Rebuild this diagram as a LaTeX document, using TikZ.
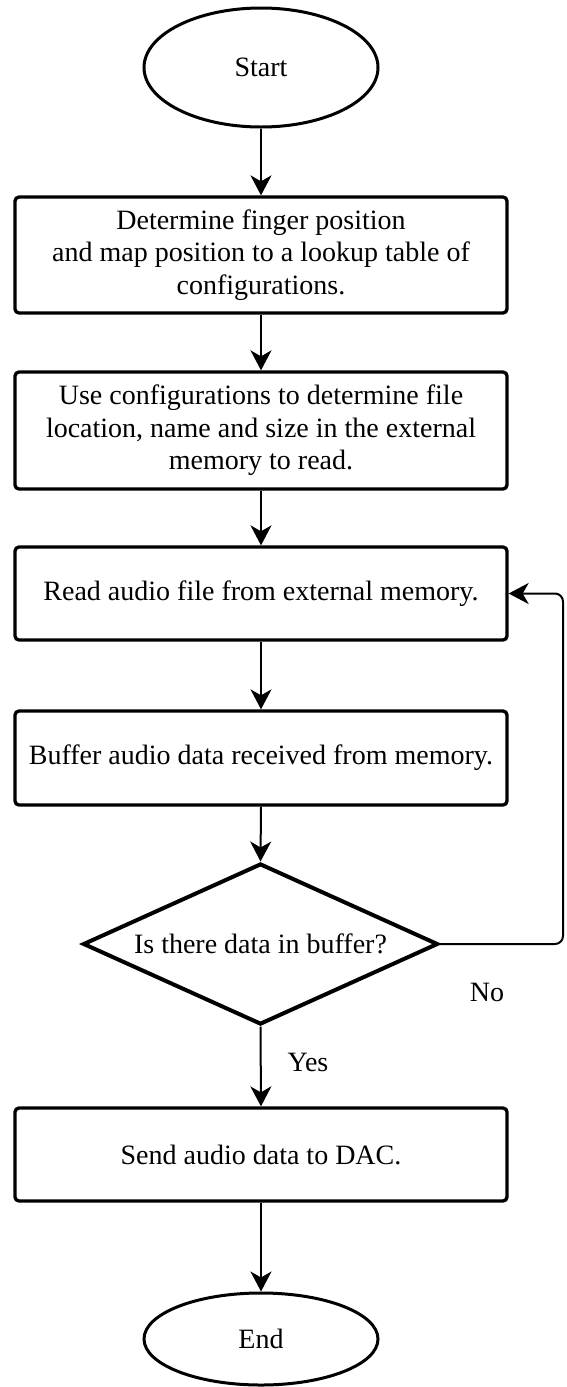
\documentclass[tikz,border=0pt]{standalone}
\usepackage{fontspec}
\setmainfont{Liberation Serif}
\usetikzlibrary{shapes.geometric,arrows.meta,calc}

\tikzset{
  every node/.style={font=\fontsize{28pt}{32.5pt}\selectfont, text=black},
  terminal/.style={ellipse, draw, line width=3pt, inner sep=0pt, minimum width=234pt},
  procbox/.style={rectangle, draw, line width=3.3pt, rounded corners=4pt, inner sep=0pt,
                  minimum width=492pt, align=center},
  decision/.style={diamond, draw, line width=4pt, inner sep=0pt, aspect=2.2,
                   minimum width=355pt, minimum height=161pt},
  flow/.style={line width=2pt, -{Stealth[length=20pt, width=21pt, inset=6pt]}},
  tag/.style={inner sep=0pt}
}

\begin{document}
\begin{tikzpicture}[x=1pt, y=1pt]
  \useasboundingbox (0,0) rectangle (566,-1387);

  % terminals
  \node[terminal, minimum height=119pt] (start) at (261,-67.5) {\raisebox{-4pt}{Start}};
  \node[terminal, minimum height=92pt]  (stop)  at (261,-1339) {\raisebox{-3pt}{End}};

  % process steps
  \node[procbox, minimum height=116pt] (locate) at (261,-255)
    {Determine finger position\\ and map position to a lookup table of\\ configurations.};
  \node[procbox, minimum height=117pt] (config) at (261,-430.5)
    {Use configurations to determine file\\ location, name and size in the external\\ memory to read.};
  \node[procbox, minimum height=93pt]  (read)   at (261,-593.5)
    {Read audio file from external memory.};
  \node[procbox, minimum height=94pt]  (buffer) at (261,-758)
    {Buffer audio data received from memory.};
  \node[decision] (check) at (260.5,-944) {Is there data in buffer?};
  \node[procbox, minimum height=93pt]  (dac)    at (261,-1154.5)
    {Send audio data to DAC.};

  % main flow
  \draw[flow] (start.south) -- (locate.north);
  \draw[flow] (locate.south) -- (config.north);
  \draw[flow] (config.south) -- (read.north);
  \draw[flow] (read.south) -- (buffer.north);
  \draw[flow] (buffer.south) -- (check.north);
  \draw[flow] (check.south) -- (dac.north);
  \draw[flow] (dac.south) -- (stop.north);

  % loop back when the buffer is empty
  \coordinate (loopx) at (563,0);
  \draw[flow, rounded corners=8pt] (check.east) -- (check.east -| loopx)
    -- (loopx |- read.east) -- (read.east);

  % branch labels
  \node[tag] (yes) at (308,-1062) {Yes};
  \node[tag] (no)  at (487,-992)  {No};
\end{tikzpicture}
\end{document}
